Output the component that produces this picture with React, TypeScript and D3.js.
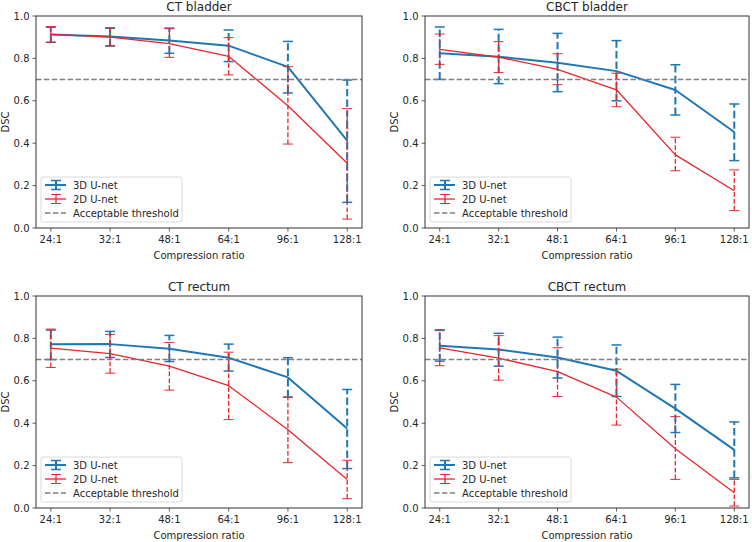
import React from "react";
import * as d3 from "d3";

const categories = ["24:1", "32:1", "48:1", "64:1", "96:1", "128:1"];
const yTicks = [0, 0.2, 0.4, 0.6, 0.8, 1.0];
const threshold = 0.7;

const titles = ["CT bladder", "CBCT bladder", "CT rectum", "CBCT rectum"];

// CT bladder
const ctBladder3D = [0.913, 0.903, 0.885, 0.86, 0.76, 0.412];
const ctBladder3DLo = [0.876, 0.858, 0.824, 0.785, 0.637, 0.121];
const ctBladder3DHi = [0.947, 0.942, 0.943, 0.934, 0.88, 0.698];
const ctBladder2D = [0.913, 0.9, 0.87, 0.81, 0.577, 0.305];
const ctBladder2DLo = [0.876, 0.86, 0.805, 0.722, 0.396, 0.042];
const ctBladder2DHi = [0.95, 0.945, 0.94, 0.898, 0.761, 0.563];

// CBCT bladder
const cbctBladder3D = [0.824, 0.808, 0.78, 0.74, 0.651, 0.453];
const cbctBladder3DLo = [0.701, 0.681, 0.643, 0.6, 0.533, 0.318];
const cbctBladder3DHi = [0.948, 0.937, 0.918, 0.884, 0.77, 0.585];
const cbctBladder2D = [0.843, 0.806, 0.748, 0.652, 0.345, 0.176];
const cbctBladder2DLo = [0.772, 0.733, 0.676, 0.572, 0.27, 0.082];
const cbctBladder2DHi = [0.915, 0.879, 0.822, 0.73, 0.428, 0.274];

// CT rectum
const ctRectum3D = [0.772, 0.773, 0.751, 0.709, 0.616, 0.375];
const ctRectum3DLo = [0.7, 0.71, 0.691, 0.646, 0.523, 0.186];
const ctRectum3DHi = [0.839, 0.833, 0.814, 0.773, 0.709, 0.559];
const ctRectum2D = [0.754, 0.728, 0.669, 0.577, 0.369, 0.135];
const ctRectum2DLo = [0.663, 0.636, 0.556, 0.417, 0.214, 0.044];
const ctRectum2DHi = [0.844, 0.819, 0.781, 0.735, 0.523, 0.225];

// CBCT rectum
const cbctRectum3D = [0.765, 0.748, 0.71, 0.647, 0.469, 0.274];
const cbctRectum3DLo = [0.693, 0.669, 0.613, 0.526, 0.356, 0.142];
const cbctRectum3DHi = [0.838, 0.824, 0.806, 0.769, 0.583, 0.406];
const cbctRectum2D = [0.755, 0.707, 0.643, 0.523, 0.279, 0.072];
const cbctRectum2DLo = [0.671, 0.603, 0.526, 0.391, 0.135, 0.009];
const cbctRectum2DHi = [0.841, 0.813, 0.756, 0.655, 0.431, 0.135];

const panelData = [
  { m3: ctBladder3D, lo3: ctBladder3DLo, hi3: ctBladder3DHi, m2: ctBladder2D, lo2: ctBladder2DLo, hi2: ctBladder2DHi },
  { m3: cbctBladder3D, lo3: cbctBladder3DLo, hi3: cbctBladder3DHi, m2: cbctBladder2D, lo2: cbctBladder2DLo, hi2: cbctBladder2DHi },
  { m3: ctRectum3D, lo3: ctRectum3DLo, hi3: ctRectum3DHi, m2: ctRectum2D, lo2: ctRectum2DLo, hi2: ctRectum2DHi },
  { m3: cbctRectum3D, lo3: cbctRectum3DLo, hi3: cbctRectum3DHi, m2: cbctRectum2D, lo2: cbctRectum2DLo, hi2: cbctRectum2DHi },
];

const BLUE = "#1f77b4";
const RED = "#e5262b";
const GRAY = "#7f7f7f";
const TEXT = "#262626";
const FONT = "DejaVu Sans, sans-serif";

const boxes = [
  { left: 36, right: 362, top: 16, bottom: 228 },
  { left: 425, right: 749, top: 16, bottom: 228 },
  { left: 36, right: 362, top: 296, bottom: 508 },
  { left: 425, right: 749, top: 296, bottom: 508 },
];

function Series({ x, y, m, lo, hi, color, lw }) {
  const line = d3
    .line<number>()
    .x((_, i) => x(categories[i]) as number)
    .y((d) => y(d));
  const dash = `${(3.7 * lw).toFixed(1)},${(1.6 * lw).toFixed(1)}`;
  return (
    <g>
      {m.map((_, i) => {
        const cx = x(categories[i]) as number;
        return (
          <g key={i}>
            <line x1={cx} x2={cx} y1={y(lo[i])} y2={y(hi[i])} stroke={color} strokeWidth={lw} strokeDasharray={dash} />
            <line x1={cx - 5} x2={cx + 5} y1={y(lo[i])} y2={y(lo[i])} stroke={color} strokeWidth={lw * 0.75} />
            <line x1={cx - 5} x2={cx + 5} y1={y(hi[i])} y2={y(hi[i])} stroke={color} strokeWidth={lw * 0.75} />
          </g>
        );
      })}
      <path d={line(m) || ""} fill="none" stroke={color} strokeWidth={lw} strokeLinejoin="round" />
    </g>
  );
}

function Panel({ idx }) {
  const b = boxes[idx];
  const d = panelData[idx];
  const x = d3.scalePoint<string>().domain(categories).range([b.left, b.right]).padding(0.25);
  const y = d3.scaleLinear().domain([0, 1]).range([b.bottom, b.top]);
  const cx = (b.left + b.right) / 2;
  const lgx = b.left + 5;
  const lgy = b.bottom - 51;
  return (
    <g>
      <defs>
        <clipPath id={`clip${idx}`}>
          <rect x={b.left} y={b.top} width={b.right - b.left} height={b.bottom - b.top} />
        </clipPath>
      </defs>
      <g clipPath={`url(#clip${idx})`}>
        <Series x={x} y={y} m={d.m3} lo={d.lo3} hi={d.hi3} color={BLUE} lw={2} />
        <Series x={x} y={y} m={d.m2} lo={d.lo2} hi={d.hi2} color={RED} lw={1.3} />
        <line x1={b.left} x2={b.right} y1={y(threshold)} y2={y(threshold)} stroke={GRAY} strokeWidth={1.5} strokeDasharray="5.5,2.4" />
      </g>
      {/* spines */}
      <rect x={b.left} y={b.top} width={b.right - b.left} height={b.bottom - b.top} fill="none" stroke="#333" strokeWidth={1} />
      {/* y ticks */}
      {yTicks.map((t) => (
        <g key={t}>
          <line x1={b.left - 3.5} x2={b.left} y1={y(t)} y2={y(t)} stroke="#333" strokeWidth={0.8} />
          <text x={b.left - 6.5} y={y(t)} dy="0.35em" textAnchor="end" fontSize={10} fill={TEXT} fontFamily={FONT}>
            {t.toFixed(1)}
          </text>
        </g>
      ))}
      {/* x ticks */}
      {categories.map((c) => (
        <g key={c}>
          <line x1={x(c)} x2={x(c)} y1={b.bottom} y2={b.bottom + 3.5} stroke="#333" strokeWidth={0.8} />
          <text x={x(c)} y={b.bottom + 15} textAnchor="middle" fontSize={10} fill={TEXT} fontFamily={FONT}>
            {c}
          </text>
        </g>
      ))}
      <text x={cx} y={b.top - 5} textAnchor="middle" fontSize={12} fill={TEXT} fontFamily={FONT}>
        {titles[idx]}
      </text>
      <text x={cx} y={b.bottom + 30.5} textAnchor="middle" fontSize={10} fill={TEXT} fontFamily={FONT}>
        Compression ratio
      </text>
      <text
        transform={`translate(${b.left - 31},${(b.top + b.bottom) / 2}) rotate(-90)`}
        textAnchor="middle"
        dy="0.35em"
        fontSize={10}
        fill={TEXT}
        fontFamily={FONT}
      >
        DSC
      </text>
      {/* legend */}
      <g transform={`translate(${lgx},${lgy})`}>
        <rect x={0} y={0} width={141} height={45} rx={2} fill="white" fillOpacity={0.85} stroke="#d0d0d0" strokeWidth={0.8} />
        <g>
          <line x1={4} x2={25} y1={8} y2={8} stroke={BLUE} strokeWidth={2} />
          <line x1={15} x2={15} y1={3.5} y2={12.5} stroke={BLUE} strokeWidth={2} />
          <line x1={10} x2={20} y1={3.5} y2={3.5} stroke={BLUE} strokeWidth={1.5} />
          <line x1={10} x2={20} y1={12.5} y2={12.5} stroke={BLUE} strokeWidth={1.5} />
          <text x={32} y={8} dy="0.35em" fontSize={10} fill={TEXT} fontFamily={FONT}>3D U-net</text>
        </g>
        <g>
          <line x1={4} x2={25} y1={22} y2={22} stroke={RED} strokeWidth={1.3} />
          <line x1={15} x2={15} y1={17.5} y2={26.5} stroke={RED} strokeWidth={1.3} />
          <line x1={10} x2={20} y1={17.5} y2={17.5} stroke={RED} strokeWidth={1} />
          <line x1={10} x2={20} y1={26.5} y2={26.5} stroke={RED} strokeWidth={1} />
          <text x={32} y={22} dy="0.35em" fontSize={10} fill={TEXT} fontFamily={FONT}>2D U-net</text>
        </g>
        <g>
          <line x1={4} x2={25} y1={36} y2={36} stroke={GRAY} strokeWidth={1.5} strokeDasharray="5.5,2.4" />
          <text x={32} y={36} dy="0.35em" fontSize={10} fill={TEXT} fontFamily={FONT}>Acceptable threshold</text>
        </g>
      </g>
    </g>
  );
}

export default function App() {
  return (
    <svg
      width={752}
      height={542}
      viewBox="0 0 752 542"
      style={{ position: "absolute", left: 0, top: 0, background: "white" }}
    >
      <rect width={752} height={542} fill="white" />
      {[0, 1, 2, 3].map((i) => (
        <Panel key={i} idx={i} />
      ))}
    </svg>
  );
}
